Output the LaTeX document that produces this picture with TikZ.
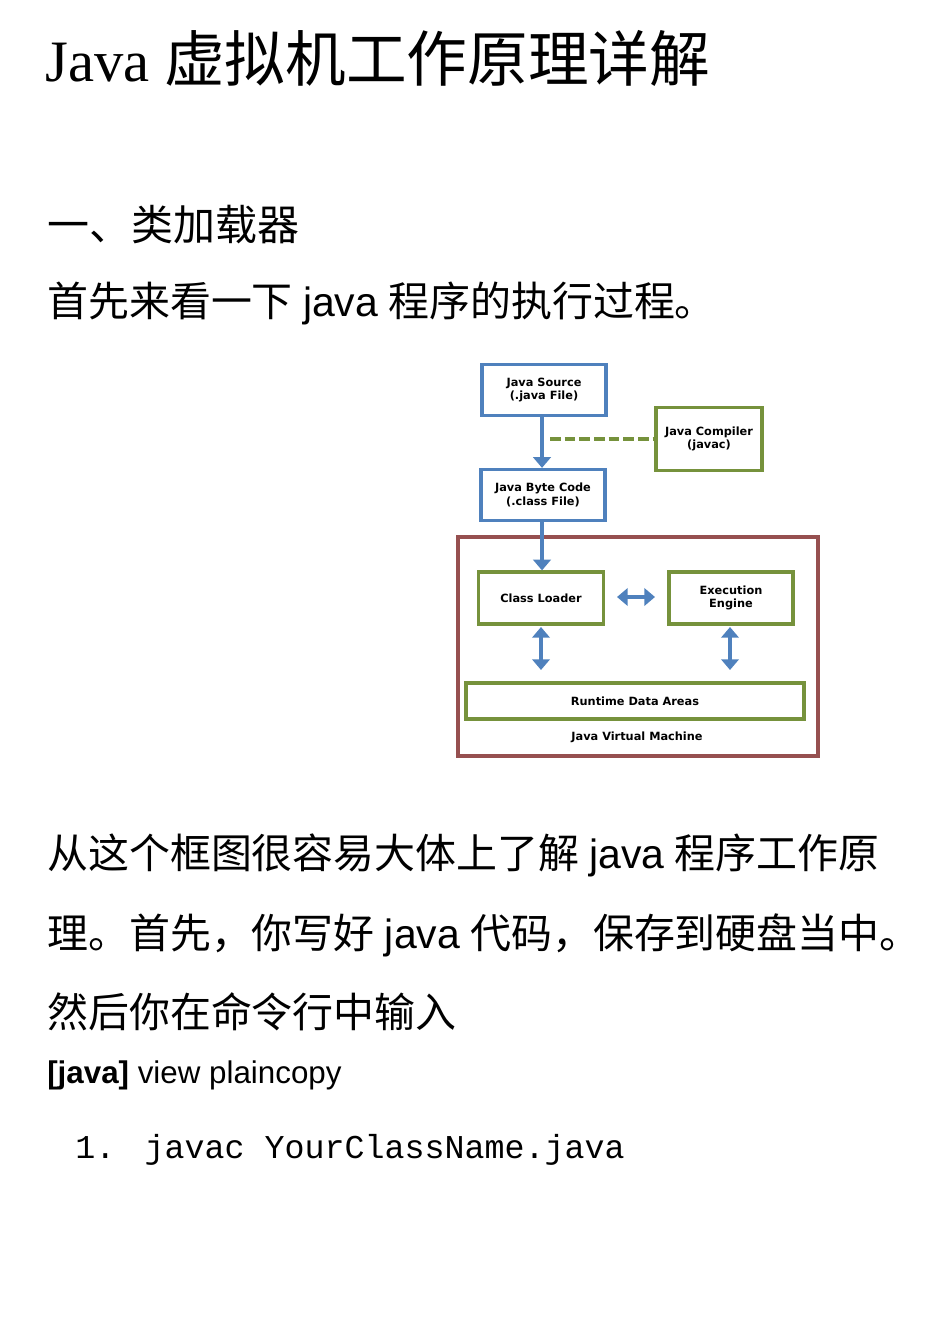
\documentclass[tikz,border=0pt]{standalone}
\usepackage{fontspec}
\setmainfont{Liberation Serif}
\newfontfamily\cjk{Noto Sans CJK SC}
\newfontfamily\lsans{Liberation Sans}
\newfontfamily\lmono{Liberation Mono}
\newfontfamily\dia{DejaVu Sans}
\usetikzlibrary{arrows.meta}
\definecolor{bb}{RGB}{79,129,189}
\definecolor{gg}{RGB}{118,146,60}
\definecolor{rr}{RGB}{150,80,80}
\begin{document}
\begin{tikzpicture}[x=0.75pt,y=-0.75pt,
  txt/.style={anchor=west,inner sep=0},
  bbox/.style={draw=bb,line width=2.4pt,align=center,inner sep=0,font=\dia\bfseries\fontsize{8.5}{10}\selectfont},
  gbox/.style={draw=gg,line width=2.4pt,align=center,inner sep=0,font=\dia\bfseries\fontsize{8.5}{10}\selectfont},
  arr/.style={draw=bb,line width=3.5pt,-{Triangle[length=8pt,width=13pt]}},
  darr/.style={draw=bb,line width=3.5pt,{Triangle[length=8pt,width=13pt]}-{Triangle[length=8pt,width=13pt]}}]
\useasboundingbox (0,0) rectangle (950,1344);
\node[txt] (title) at (45,58) {\fontsize{44}{50}\selectfont Java {\cjk\fontsize{45.5}{50}\selectfont 虚拟机工作原理详解}};
\node[txt] (h1) at (47,225) {\cjk\fontsize{31.5}{34}\selectfont 一、类加载器};
\node[txt] (p1) at (47,303) {\fontsize{30.7}{34}\selectfont{\cjk 首先来看一下} {\lsans java} {\cjk 程序的执行过程。}};
\node[txt] (p2) at (47,855) {\fontsize{30.7}{34}\selectfont{\cjk 从这个框图很容易大体上了解} {\lsans java} {\cjk 程序工作原}};
\node[txt] (p3) at (47,935) {\fontsize{30.7}{34}\selectfont{\cjk 理。首先，你写好} {\lsans java} {\cjk 代码，保存到硬盘当中。}};
\node[txt] (p4) at (47,1012) {\cjk\fontsize{30.7}{34}\selectfont 然后你在命令行中输入};
\node[txt] (v) at (47,1075) {\lsans\fontsize{23.5}{26}\selectfont\textbf{[java]} view plaincopy};
\node[txt] (code) at (75,1150) {\lmono\fontsize{25}{27}\selectfont 1.\hspace{22pt}javac YourClassName.java};

\draw[rr,line width=2.4pt] (458,537) rectangle (818,756);
\node[bbox,minimum width=124*0.75pt,minimum height=51*0.75pt] (src) at (544,390) {Java Source\\(.java File)};
\node[gbox,minimum width=106*0.75pt,minimum height=63*0.75pt] (comp) at (709,439) {Java Compiler\\(javac)};
\node[bbox,minimum width=124*0.75pt,minimum height=51*0.75pt] (bc) at (543,495) {Java Byte Code\\(.class File)};
\node[gbox,minimum width=125*0.75pt,minimum height=52*0.75pt] (cl) at (541,598) {Class Loader};
\node[gbox,minimum width=124*0.75pt,minimum height=52*0.75pt] (ee) at (731,598) {Execution\\Engine};
\node[gbox,minimum width=338*0.75pt,minimum height=36*0.75pt] (rda) at (635,701) {Runtime Data Areas};
\node[font=\dia\bfseries\fontsize{8.5}{9}\selectfont] (jvm) at (637,737) {Java Virtual Machine};
\coordinate (dl) at (550,439);
\draw[gg,line width=3.5pt,dash pattern=on 8pt off 3pt] (dl) -- (comp.west);
\draw[arr] (src.south -| 542,0) -- (bc.north -| 542,0);
\draw[arr] (bc.south -| 542,0) -- (cl.north -| 542,0);
\draw[darr] (617,597) -- (655,597);
\draw[darr] (541,627) -- (541,670);
\draw[darr] (730,627) -- (730,670);
\end{tikzpicture}
\end{document}
